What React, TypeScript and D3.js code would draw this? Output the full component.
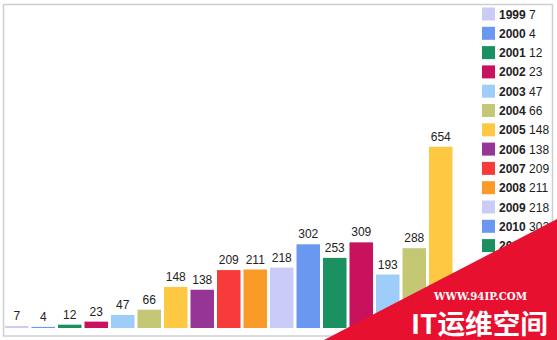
import React from "react";
import * as d3 from "d3";

const years = ["1999","2000","2001","2002","2003","2004","2005","2006","2007","2008","2009","2010","2011","2012","2013","2014","2015"];
const counts = [7, 4, 12, 23, 47, 66, 148, 138, 209, 211, 218, 302, 253, 309, 193, 288, 654];
const palette = ["#cbcbf7", "#6a97ef", "#1b9162", "#c9125d", "#9fcdfa", "#c4c773", "#fec843", "#963596", "#f73b3b", "#fa9a27"];
// legend entries that are not hidden behind the watermark
const visibleLegendCount = 13;

export default function App() {
  const W = 557, H = 340;
  const x = d3.scaleBand<string>().domain(years).range([3.5, 454]).paddingInner(0.113).paddingOuter(0.0565);
  const y = d3.scaleLinear().domain([0, 700]).range([328, 134]);
  const color = d3.scaleOrdinal<string, string>().domain(years).range(palette);
  const legendY = d3.scaleLinear().domain([0, 1]).range([14, 33.3]);
  return (
    <svg width={W} height={H} style={{ position: "absolute", left: 0, top: 0, background: "#fff" }} fontFamily="Arial, 'Liberation Sans', sans-serif">
      <rect x={3.5} y={4.5} width={549} height={331.5} fill="#fff" stroke="#cfcfcf" strokeWidth={1.5} />
      {years.map((yr, i) => (
        <g key={yr}>
          <rect x={x(yr)} y={y(counts[i])} width={x.bandwidth()} height={328 - y(counts[i])} fill={color(yr)} />
          <text x={(x(yr) as number) + x.bandwidth() / 2} y={y(counts[i]) - 6} textAnchor="middle" fontSize={12} fill="#222">{counts[i]}</text>
        </g>
      ))}
      {years.slice(0, visibleLegendCount).map((yr, i) => (
        <g key={"l" + yr} transform={`translate(482,${legendY(i)})`}>
          <rect x={0} y={-6.5} width={13} height={13} fill={color(yr)} />
          <text x={17} y={4.5} fontSize={12} fill="#222">
            <tspan fontWeight="bold">{yr}</tspan>
            <tspan> {counts[i]}</tspan>
          </text>
        </g>
      ))}
      <polygon points="557,219 324,340 557,340" fill="#e8102f" />
      <text x={434} y={300} fontSize={10.5} fontWeight="bold" fill="#fff" fontFamily="'DejaVu Serif', 'Liberation Serif', serif" textLength={93} lengthAdjust="spacingAndGlyphs">WWW.94IP.COM</text>
      <text x={411} y={334} fontSize={27} fontWeight="bold" fill="#fff" fontFamily="'Noto Sans CJK SC', sans-serif" textLength={137} lengthAdjust="spacingAndGlyphs">IT运维空间</text>
    </svg>
  );
}
